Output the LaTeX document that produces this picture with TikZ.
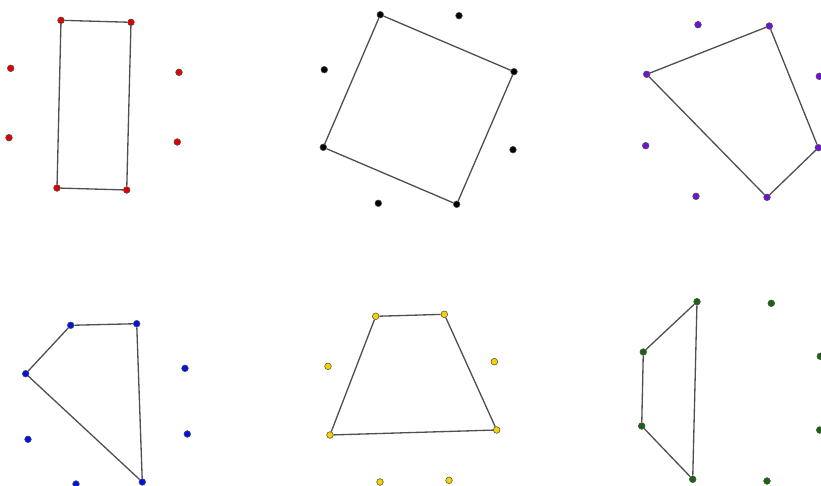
\documentclass[tikz,border=0pt]{standalone}
\usepackage{tikz}

\definecolor{ptred}{RGB}{225,0,0}
\definecolor{ptpurple}{RGB}{110,20,210}
\definecolor{ptblue}{RGB}{0,20,225}
\definecolor{ptyellow}{RGB}{245,210,0}
\definecolor{ptgreen}{RGB}{25,100,15}
\definecolor{edgegray}{RGB}{80,80,80}

\tikzset{
  pt/.style={circle, draw=black!70, line width=0.3pt, inner sep=0pt, minimum size=3.8pt, fill=#1},
  side/.style={draw=edgegray, line width=0.75pt}
}

\begin{document}
\begin{tikzpicture}[x=0.02cm, y=-0.02cm]

\useasboundingbox (0,0) rectangle (821,486);

% Red points
\node[pt=ptred] (r1) at (61,20.3) {};
\node[pt=ptred] (r2) at (131,22.3) {};
\node[pt=ptred] (r3) at (126.7,190) {};
\node[pt=ptred] (r4) at (57,188) {};
\node[pt=ptred] (r5) at (10.7,68.3) {};
\node[pt=ptred] (r6) at (9,137.7) {};
\node[pt=ptred] (r7) at (179,72.3) {};
\node[pt=ptred] (r8) at (177.3,142) {};

% Black points
\node[pt=black] (k1) at (380.3,14.7) {};
\node[pt=black] (k2) at (514,71.7) {};
\node[pt=black] (k3) at (456.7,204.3) {};
\node[pt=black] (k4) at (323.3,147.3) {};
\node[pt=black] (k5) at (459,15.7) {};
\node[pt=black] (k6) at (324.3,69.7) {};
\node[pt=black] (k7) at (513,149.7) {};
\node[pt=black] (k8) at (378.3,203.3) {};

% Purple points
\node[pt=ptpurple] (p1) at (769.3,26) {};
\node[pt=ptpurple] (p2) at (818.3,147.7) {};
\node[pt=ptpurple] (p3) at (767,197.3) {};
\node[pt=ptpurple] (p4) at (646.7,74.3) {};
\node[pt=ptpurple] (p5) at (698,24.7) {};
\node[pt=ptpurple] (p6) at (819.3,76.3) {};
\node[pt=ptpurple] (p7) at (645.7,145.7) {};
\node[pt=ptpurple] (p8) at (696,196.3) {};

% Blue points
\node[pt=ptblue] (b1) at (70.7,325.3) {};
\node[pt=ptblue] (b2) at (136.7,323.7) {};
\node[pt=ptblue] (b3) at (142.3,482) {};
\node[pt=ptblue] (b4) at (25.7,373.7) {};
\node[pt=ptblue] (b5) at (185,368.3) {};
\node[pt=ptblue] (b6) at (187.3,434) {};
\node[pt=ptblue] (b7) at (28,439.3) {};
\node[pt=ptblue] (b8) at (76,484) {};

% Yellow points
\node[pt=ptyellow] (y1) at (375.7,316.3) {};
\node[pt=ptyellow] (y2) at (444.3,314.3) {};
\node[pt=ptyellow] (y3) at (496.7,430) {};
\node[pt=ptyellow] (y4) at (330,435) {};
\node[pt=ptyellow] (y5) at (328,366.3) {};
\node[pt=ptyellow] (y6) at (494.3,361.7) {};
\node[pt=ptyellow] (y7) at (380,482) {};
\node[pt=ptyellow] (y8) at (449,480.3) {};

% Green points
\node[pt=ptgreen] (g1) at (697,301.7) {};
\node[pt=ptgreen] (g2) at (692.7,479.3) {};
\node[pt=ptgreen] (g3) at (641.7,426) {};
\node[pt=ptgreen] (g4) at (643.3,352) {};
\node[pt=ptgreen] (g5) at (771.3,303.3) {};
\node[pt=ptgreen] (g6) at (820.3,356.3) {};
\node[pt=ptgreen] (g7) at (819.7,430) {};
\node[pt=ptgreen] (g8) at (767,481) {};

% Quadrilaterals
\draw[side] (r1) -- (r2) -- (r3) -- (r4) -- (r1);
\draw[side] (k1) -- (k2) -- (k3) -- (k4) -- (k1);
\draw[side] (p1) -- (p2) -- (p3) -- (p4) -- (p1);
\draw[side] (b1) -- (b2) -- (b3) -- (b4) -- (b1);
\draw[side] (y1) -- (y2) -- (y3) -- (y4) -- (y1);
\draw[side] (g1) -- (g2) -- (g3) -- (g4) -- (g1);

\end{tikzpicture}
\end{document}
